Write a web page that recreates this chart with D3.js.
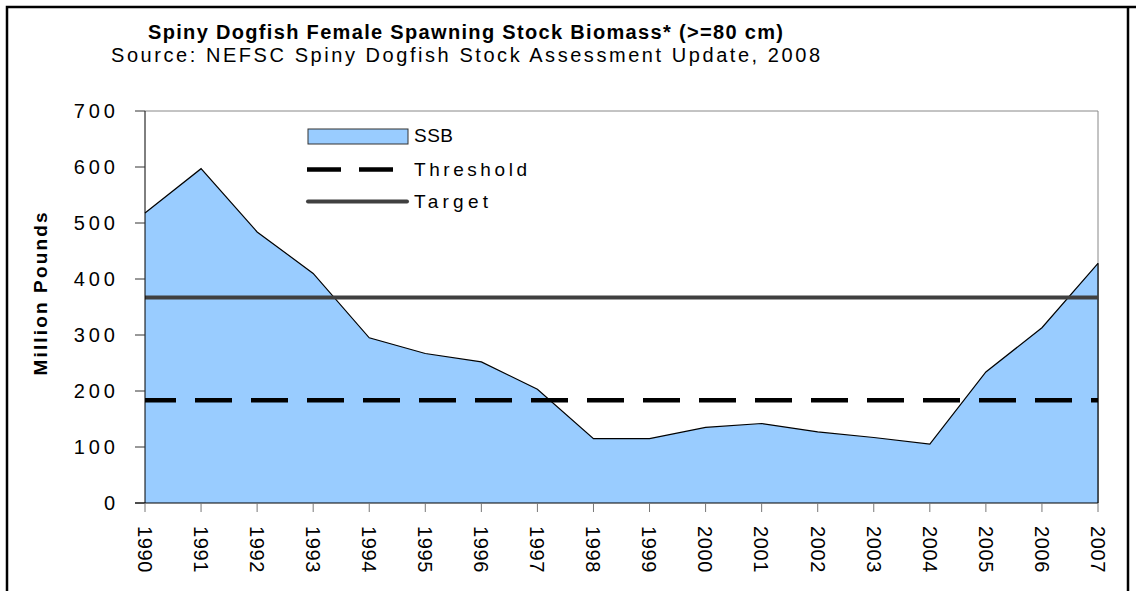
<!DOCTYPE html>
<html>
<head>
<meta charset="utf-8">
<script src="https://cdn.jsdelivr.net/npm/d3@7"></script>
<style>
  body { margin: 0; background: #fff; }
  text { font-family: "Liberation Sans", Arial, sans-serif; fill: #000; }
</style>
</head>
<body>
<div id="chart"></div>
<script>
const years = ["1990", "1991", "1992", "1993", "1994", "1995", "1996", "1997", "1998",
               "1999", "2000", "2001", "2002", "2003", "2004", "2005", "2006", "2007"];
const ssb = [518, 597, 484, 410, 295, 267, 252, 203, 115, 115, 135, 142, 127, 117, 105, 234, 313, 428];
const threshold = 183.5;
const target = 367;
const yTicks = [0, 100, 200, 300, 400, 500, 600, 700];
const legendItems = ["SSB", "Threshold", "Target"];

document.addEventListener("DOMContentLoaded", function () {
    const width = 1136,
          height = 591;
    const margin = { top: 111, right: 38, bottom: 88, left: 145 };

    const svg = d3.select("#chart").append("svg")
        .attr("width", width)
        .attr("height", height);

    // outer frame (page border, bottom edge is cut off)
    svg.append("path")
        .attr("d", `M7,${height} V7 H${width} M1128,7 V${height}`)
        .attr("fill", "none")
        .attr("stroke", "#000")
        .attr("stroke-width", 2.5);

    const x = d3.scalePoint()
        .domain(years)
        .range([margin.left, width - margin.right]);

    const y = d3.scaleLinear()
        .domain([0, 700])
        .range([height - margin.bottom, margin.top]);

    const data = years.map((yr, i) => ({ year: yr, value: ssb[i] }));

    // plot border (grey top + right)
    svg.append("path")
        .attr("d", `M${x.range()[0]},${y(700)} H${x.range()[1]} V${y(0)}`)
        .attr("fill", "none")
        .attr("stroke", "#888")
        .attr("stroke-width", 1);

    // SSB area
    const area = d3.area()
        .x(d => x(d.year))
        .y0(y(0))
        .y1(d => y(d.value));

    svg.append("path")
        .datum(data)
        .attr("fill", "#99ccff")
        .attr("d", area);

    svg.append("path")
        .datum(data)
        .attr("fill", "none")
        .attr("stroke", "#000")
        .attr("stroke-width", 1.2)
        .attr("d", d3.line().x(d => x(d.year)).y(d => y(d.value)));

    // right edge of the area
    svg.append("line")
        .attr("x1", x("2007")).attr("x2", x("2007"))
        .attr("y1", y(ssb[ssb.length - 1])).attr("y2", y(0))
        .attr("stroke", "#000")
        .attr("stroke-width", 1.2);

    // threshold (dashed) and target lines
    svg.append("line")
        .attr("x1", x.range()[0]).attr("x2", x.range()[1])
        .attr("y1", y(threshold)).attr("y2", y(threshold))
        .attr("stroke", "#000")
        .attr("stroke-width", 4.5)
        .attr("stroke-dasharray", "37,19")
        .attr("stroke-dashoffset", 6);

    svg.append("line")
        .attr("x1", x.range()[0]).attr("x2", x.range()[1])
        .attr("y1", y(target)).attr("y2", y(target))
        .attr("stroke", "#404040")
        .attr("stroke-width", 4);

    // y axis
    const yAxis = svg.append("g");
    yAxis.append("line")
        .attr("x1", margin.left).attr("x2", margin.left)
        .attr("y1", y(700)).attr("y2", y(0))
        .attr("stroke", "#000");
    yAxis.selectAll(".ytick")
        .data(yTicks)
        .join("line")
        .attr("x1", margin.left - 10).attr("x2", margin.left)
        .attr("y1", d => y(d)).attr("y2", d => y(d))
        .attr("stroke", "#333");
    yAxis.selectAll("text")
        .data(yTicks)
        .join("text")
        .attr("x", 119)
        .attr("y", d => y(d))
        .attr("dy", "0.36em")
        .attr("text-anchor", "end")
        .style("font-size", "20px")
        .style("letter-spacing", "4px")
        .text(d => d);

    // x axis
    const xAxis = svg.append("g");
    xAxis.append("line")
        .attr("x1", margin.left - 10).attr("x2", x.range()[1])
        .attr("y1", y(0)).attr("y2", y(0))
        .attr("stroke", "#000");
    xAxis.selectAll(".xtick")
        .data(years)
        .join("line")
        .attr("x1", d => x(d)).attr("x2", d => x(d))
        .attr("y1", y(0)).attr("y2", y(0) + 9)
        .attr("stroke", "#777");
    xAxis.selectAll("text")
        .data(years)
        .join("text")
        .attr("transform", d => `translate(${x(d)},526) rotate(90)`)
        .attr("dy", "0.36em")
        .attr("text-anchor", "start")
        .style("font-size", "20px")
        .style("letter-spacing", "0.6px")
        .text(d => d);

    // axis title
    svg.append("text")
        .attr("transform", "translate(47,294) rotate(-90)")
        .attr("text-anchor", "middle")
        .attr("textLength", 163)
        .attr("lengthAdjust", "spacing")
        .style("font-size", "19px")
        .style("font-weight", "bold")
        .text("Million Pounds");

    // titles
    svg.append("text")
        .attr("x", 148)
        .attr("y", 39)
        .attr("textLength", 635)
        .attr("lengthAdjust", "spacing")
        .style("font-size", "20px")
        .style("font-weight", "bold")
        .text("Spiny Dogfish Female Spawning Stock Biomass* (>=80 cm)");

    svg.append("text")
        .attr("x", 111)
        .attr("y", 62)
        .attr("textLength", 709)
        .attr("lengthAdjust", "spacing")
        .style("font-size", "20px")
        .text("Source: NEFSC Spiny Dogfish Stock Assessment Update, 2008");

    // legend
    const legend = svg.append("g");
    legend.append("rect")
        .attr("x", 308).attr("y", 129)
        .attr("width", 100).attr("height", 15)
        .attr("fill", "#99ccff")
        .attr("stroke", "#333");
    legend.append("line")
        .attr("x1", 307).attr("x2", 395)
        .attr("y1", 169.5).attr("y2", 169.5)
        .attr("stroke", "#000")
        .attr("stroke-width", 4.5)
        .attr("stroke-dasharray", "34,18");
    legend.append("line")
        .attr("x1", 308).attr("x2", 407)
        .attr("y1", 201.5).attr("y2", 201.5)
        .attr("stroke", "#404040")
        .attr("stroke-width", 4)
        .attr("stroke-linecap", "round");

    const legendY = [142, 176, 208];
    const legendW = [39, 113, 74];
    legend.selectAll("text")
        .data(legendItems)
        .join("text")
        .attr("x", 414)
        .attr("y", (d, i) => legendY[i])
        .attr("textLength", (d, i) => legendW[i])
        .attr("lengthAdjust", "spacing")
        .style("font-size", "19px")
        .text(d => d);
});
</script>
</body>
</html>
